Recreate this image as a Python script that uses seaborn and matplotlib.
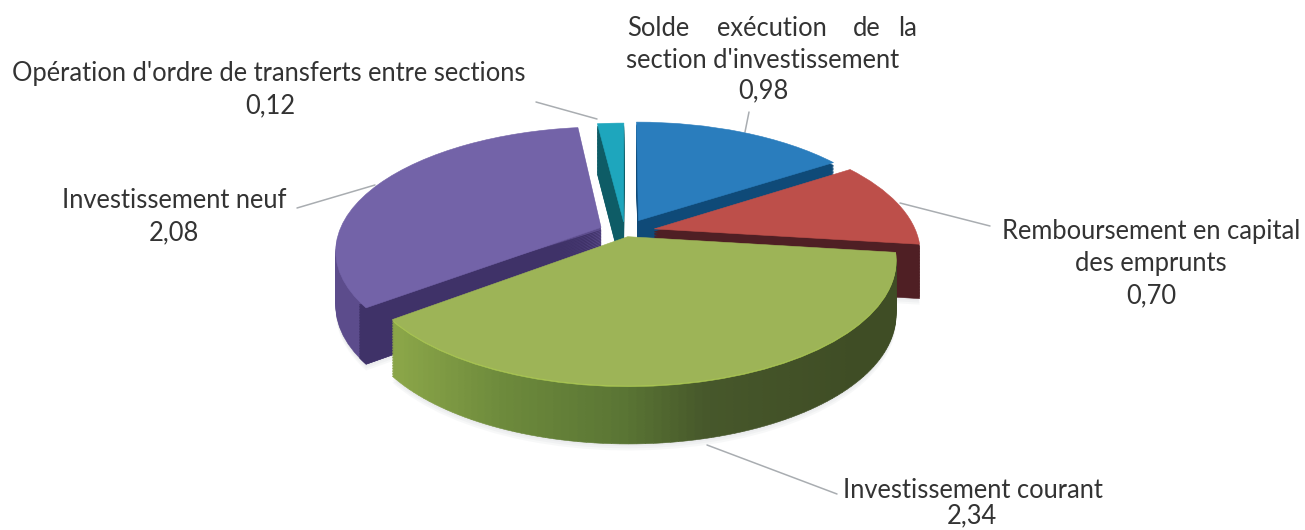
import numpy as np
import matplotlib
matplotlib.use("Agg")
import matplotlib.pyplot as plt
from matplotlib.transforms import Transform
import seaborn as sns

# ---- data ----
categories = ["Solde exécution de la section d'investissement",
              "Remboursement en capital des emprunts",
              "Investissement courant",
              "Investissement neuf",
              "Opération d'ordre de transferts entre sections"]
values = [0.98, 0.70, 2.34, 2.08, 0.12]
value_labels = ["0,98", "0,70", "2,34", "2,08", "0,12"]

# ---- style ----
top_colors = ["#2a7dbd", "#bd4f4a", "#9db457", "#7363a8", "#1ea6bd"]
wall_colors = ["#0f4a78", "#4f1f24", "#5a7534", "#3f3268", "#0e5c66"]
explode = [0.11, 0.115, 0.04, 0.10, 0.085]
draw_order = [4, 0, 3, 1, 2]
CX, CY, RX, RY, K, DEPTH = 625.0, 232.0, 262.0, 120.0, 0.18, 54.0

sns.set_theme(style="white")
plt.rcParams["font.family"] = ["Lato", "DejaVu Sans"]
sns.set_palette(top_colors)


class Tilt(Transform):
    """Perspective view of the unit pie disc, in picture pixels."""
    input_dims = 2
    output_dims = 2
    is_separable = False
    has_inverse = False

    def __init__(self, drop=0.0):
        super().__init__()
        self.drop = drop

    def transform_non_affine(self, values):
        xy = np.asarray(values, float)
        s = 1.0 / (1.0 + K * xy[:, 1])
        return np.column_stack([CX + RX * xy[:, 0] * s,
                                CY - RY * xy[:, 1] * s + self.drop * s ** 0.4])


fig = plt.figure(figsize=(13.05, 5.30), dpi=100)
fig.patch.set_facecolor("white")
ax = fig.add_axes([0, 0, 1, 1])

total = sum(values)
fractions = [v / total for v in values]
starts = 90 - 360 * np.cumsum([0] + fractions[:-1])


def draw_layer(i, drop, colors, z, n=1, alpha=None, first_only=False):
    f = fractions[i]
    mid = np.deg2rad(starts[i] - 180 * f)
    centre = (explode[i] * np.cos(mid), explode[i] * np.sin(mid))
    parts = [f / n] if first_only else [f / n] * n
    wedges, _ = ax.pie(parts, normalize=False, startangle=starts[i],
                       counterclock=False, center=centre, radius=1,
                       colors=colors,
                       wedgeprops={"linewidth": 0.4 if alpha is None else 0,
                                   "alpha": alpha})
    for w in wedges:
        if alpha is None:
            w.set_edgecolor(w.get_facecolor())
        w.set_transform(Tilt(drop) + ax.transData)
        w.set_zorder(z)


def green_wall(n):
    xs = (np.arange(n) + 0.5) / n
    ang = np.deg2rad(starts[2] - 360 * fractions[2] * xs)
    px = CX + RX * np.cos(ang) / (1 + K * np.sin(ang))
    stops_x = [400, 500, 620, 700, 850]
    stops = np.array([[0x8a, 0xa5, 0x48], [0x6d, 0x8a, 0x3c], [0x5a, 0x75, 0x34],
                      [0x47, 0x58, 0x2b], [0x3f, 0x4d, 0x25]]) / 255
    return [tuple(np.interp(p, stops_x, stops[:, c]) for c in range(3)) for p in px]


for rank, i in enumerate(draw_order):
    base = (rank + 1) * 1000
    # soft shadow
    if i in (1, 2, 3):
        for sd in (DEPTH + 6, DEPTH + 4, DEPTH + 2):
            draw_layer(i, sd, ["#b8bcc4"], 1, alpha=0.10)
    # side walls stacked from the bottom up
    layers = np.arange(DEPTH, 1.5, -1.5)
    for k, d in enumerate(layers):
        if i == 2:
            draw_layer(i, d, green_wall(90), base + k, n=90)
        elif i == 3:
            draw_layer(i, d, ["#5c4c8c"], base + k)
            draw_layer(i, d, [wall_colors[3]], base + 400 + k, n=40, first_only=True)
        else:
            draw_layer(i, d, [wall_colors[i]], base + k)
    if i == 2:
        draw_layer(i, 1.2, ["#aac653"], base + 900)
    draw_layer(i, 0, [top_colors[i]], base + 901)

ax.set_aspect("auto")
ax.set_xlim(0, 1305)
ax.set_ylim(530, 0)
ax.axis("off")

# ---- leader lines ----
leaders = [((749, 112), (745, 132)), ((900, 203), (990, 226)),
           ((707, 445), (837, 494)), ((297, 208), (375, 185)),
           ((536, 102), (597, 119))]
for (x0, y0), (x1, y1) in leaders:
    ax.plot([x0, x1], [y0, y1], color="#a9adb1", lw=1.1, zorder=0.5, clip_on=False)

# ---- labels ----
TXT = "#333333"
FS = 18.4
label_lines = [
    (627, 28, "Solde", "left"), (772, 28, "exécution", "center"),
    (867, 28, "de", "center"), (917, 28, "la", "right"),
    (763, 60, "section d'investissement", "center"),
    (763, 91, value_labels[0], "center"),
    (1151, 231, "Remboursement en capital", "center"),
    (1151, 264, "des emprunts", "center"),
    (1151, 296, value_labels[1], "center"),
    (973, 491, "Investissement courant", "center"),
    (972, 516, value_labels[2], "center"),
    (174, 201, "Investissement neuf", "center"),
    (174, 233, value_labels[3], "center"),
    (269, 73, "Opération d'ordre de transferts entre sections", "center"),
    (270, 106, value_labels[4], "center"),
]
for x, y, s, ha in label_lines:
    ax.text(x, y, s, ha=ha, va="center", fontsize=FS, color=TXT, zorder=20000)

fig.savefig("out.png", dpi=100, facecolor="white")
